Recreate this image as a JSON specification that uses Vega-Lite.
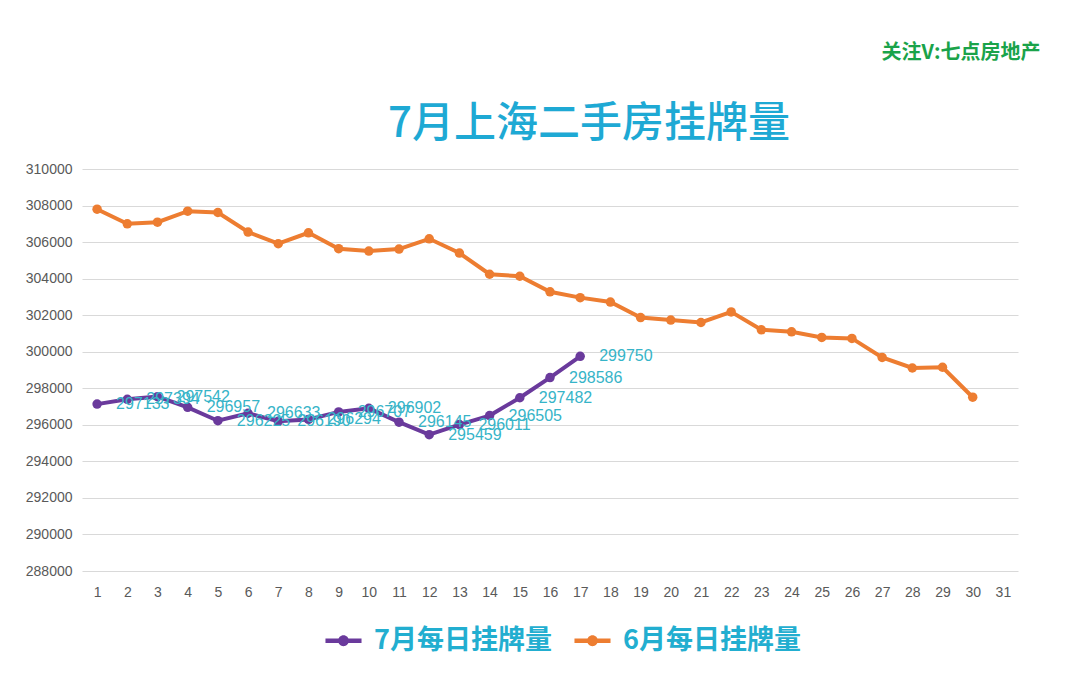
{
  "$schema": "https://vega.github.io/schema/vega-lite/v6.json",
  "width": 936,
  "height": 402,
  "autosize": {"type": "none"},
  "padding": {"left": 82, "top": 169, "right": 62, "bottom": 117},
  "background": "white",
  "title": {
    "text": "7月上海二手房挂牌量",
    "frame": "group",
    "anchor": "middle",
    "dx": 39,
    "offset": -146,
    "baseline": "bottom",
    "font": "Noto Sans CJK SC",
    "fontSize": 42,
    "fontWeight": 500,
    "color": "#1ea9d4"
  },
  "data": {
    "values": [
      {"day": 1, "series": "7月每日挂牌量", "value": 297133},
      {"day": 2, "series": "7月每日挂牌量", "value": 297394},
      {"day": 3, "series": "7月每日挂牌量", "value": 297542},
      {"day": 4, "series": "7月每日挂牌量", "value": 296957},
      {"day": 5, "series": "7月每日挂牌量", "value": 296225},
      {"day": 6, "series": "7月每日挂牌量", "value": 296633},
      {"day": 7, "series": "7月每日挂牌量", "value": 296190},
      {"day": 8, "series": "7月每日挂牌量", "value": 296294},
      {"day": 9, "series": "7月每日挂牌量", "value": 296707},
      {"day": 10, "series": "7月每日挂牌量", "value": 296902},
      {"day": 11, "series": "7月每日挂牌量", "value": 296145},
      {"day": 12, "series": "7月每日挂牌量", "value": 295459},
      {"day": 13, "series": "7月每日挂牌量", "value": 296011},
      {"day": 14, "series": "7月每日挂牌量", "value": 296505},
      {"day": 15, "series": "7月每日挂牌量", "value": 297482},
      {"day": 16, "series": "7月每日挂牌量", "value": 298586},
      {"day": 17, "series": "7月每日挂牌量", "value": 299750},
      {"day": 1, "series": "6月每日挂牌量", "value": 307800},
      {"day": 2, "series": "6月每日挂牌量", "value": 307000},
      {"day": 3, "series": "6月每日挂牌量", "value": 307090},
      {"day": 4, "series": "6月每日挂牌量", "value": 307690},
      {"day": 5, "series": "6月每日挂牌量", "value": 307620},
      {"day": 6, "series": "6月每日挂牌量", "value": 306550},
      {"day": 7, "series": "6月每日挂牌量", "value": 305910},
      {"day": 8, "series": "6月每日挂牌量", "value": 306510},
      {"day": 9, "series": "6月每日挂牌量", "value": 305640},
      {"day": 10, "series": "6月每日挂牌量", "value": 305510},
      {"day": 11, "series": "6月每日挂牌量", "value": 305620},
      {"day": 12, "series": "6月每日挂牌量", "value": 306180},
      {"day": 13, "series": "6月每日挂牌量", "value": 305400},
      {"day": 14, "series": "6月每日挂牌量", "value": 304240},
      {"day": 15, "series": "6月每日挂牌量", "value": 304130},
      {"day": 16, "series": "6月每日挂牌量", "value": 303280},
      {"day": 17, "series": "6月每日挂牌量", "value": 302960},
      {"day": 18, "series": "6月每日挂牌量", "value": 302720},
      {"day": 19, "series": "6月每日挂牌量", "value": 301870},
      {"day": 20, "series": "6月每日挂牌量", "value": 301730},
      {"day": 21, "series": "6月每日挂牌量", "value": 301600},
      {"day": 22, "series": "6月每日挂牌量", "value": 302180},
      {"day": 23, "series": "6月每日挂牌量", "value": 301200},
      {"day": 24, "series": "6月每日挂牌量", "value": 301090},
      {"day": 25, "series": "6月每日挂牌量", "value": 300780},
      {"day": 26, "series": "6月每日挂牌量", "value": 300730},
      {"day": 27, "series": "6月每日挂牌量", "value": 299690},
      {"day": 28, "series": "6月每日挂牌量", "value": 299110},
      {"day": 29, "series": "6月每日挂牌量", "value": 299150},
      {"day": 30, "series": "6月每日挂牌量", "value": 297510}
    ]
  },
  "encoding": {
    "x": {
      "field": "day",
      "type": "ordinal",
      "scale": {"type": "point", "padding": 0.5, "domain": [1,2,3,4,5,6,7,8,9,10,11,12,13,14,15,16,17,18,19,20,21,22,23,24,25,26,27,28,29,30,31]},
      "axis": {
        "title": null,
        "labelAngle": 0,
        "ticks": false,
        "domain": false,
        "grid": false,
        "labelPadding": 14,
        "labelFontSize": 14,
        "labelColor": "#595959",
        "labelFont": "Liberation Sans"
      }
    },
    "y": {
      "field": "value",
      "type": "quantitative",
      "scale": {"domain": [288000, 310000], "zero": false, "nice": false},
      "axis": {
        "values": [288000, 290000, 292000, 294000, 296000, 298000, 300000, 302000, 304000, 306000, 308000, 310000],
        "format": "d",
        "ticks": false,
        "domain": false,
        "labelPadding": 10,
        "labelFontSize": 14,
        "labelColor": "#595959",
        "labelFont": "Liberation Sans",
        "gridColor": "#d9d9d9",
        "gridWidth": 1,
        "title": "关注V:七点房地产",
        "titleAngle": 0,
        "titleX": 958,
        "titleY": -117,
        "titleAlign": "right",
        "titleBaseline": "middle",
        "titleColor": "#1aa34a",
        "titleFont": "Noto Sans CJK SC",
        "titleFontSize": 20,
        "titleFontWeight": "bold"
      }
    }
  },
  "layer": [
    {
      "mark": {"type": "line", "strokeWidth": 4},
      "encoding": {
        "color": {
          "field": "series",
          "type": "nominal",
          "scale": {"domain": ["7月每日挂牌量", "6月每日挂牌量"], "range": ["#6a3a9c", "#ed7d31"]},
          "legend": {
            "orient": "none",
            "legendX": 243,
            "legendY": 453,
            "direction": "horizontal",
            "title": null,
            "symbolType": "M-1,-0.12H1V0.12H-1Z M-0.3,0A0.3,0.3 0 1,1 0.3,0A0.3,0.3 0 1,1 -0.3,0Z",
            "symbolSize": 1300,
            "symbolStrokeWidth": 0,
            "labelFont": "Noto Sans CJK SC",
            "labelFontSize": 27,
            "labelFontWeight": "bold",
            "labelColor": "#22aed0",
            "labelLimit": 400,
            "labelOffset": 12,
            "columnPadding": 22
          }
        }
      }
    },
    {
      "mark": {"type": "point", "filled": true, "size": 90, "opacity": 1},
      "encoding": {
        "color": {"field": "series", "type": "nominal"}
      }
    },
    {
      "transform": [{"filter": "datum.series === '7月每日挂牌量'"}],
      "mark": {
        "type": "text",
        "align": "left",
        "baseline": "middle",
        "dx": 19,
        "font": "Liberation Sans",
        "fontSize": 16,
        "color": "#36b4c8"
      },
      "encoding": {
        "text": {"field": "value", "type": "quantitative", "format": "d"}
      }
    }
  ],
  "config": {
    "view": {"stroke": null}
  }
}
